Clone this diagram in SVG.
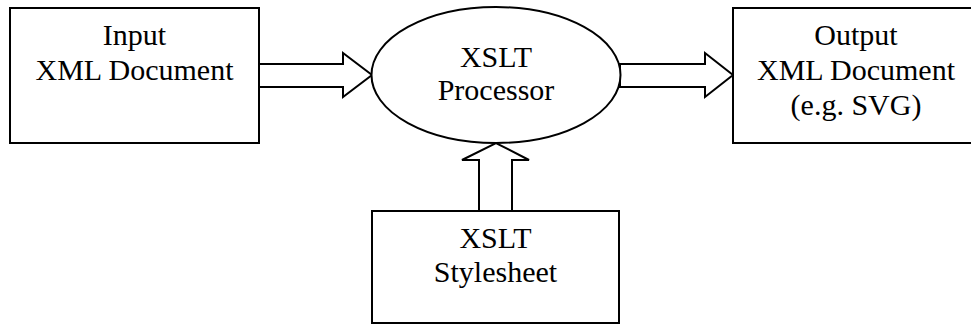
<svg xmlns="http://www.w3.org/2000/svg" width="971" height="325" viewBox="0 0 971 325">
<style>
.s{fill:#fff;stroke:#000;stroke-width:2}
.t{font-family:"Liberation Serif","Times New Roman",serif;font-size:30px;fill:#000;text-anchor:middle}
</style>
<rect width="971" height="325" fill="#fff"/>
<g id="connectors">
<path class="s" d="M259,64 H343 V53 L372,75 L343,97 V87 H259 Z"/>
<path class="s" d="M620,64 H705 V53 L733,75 L705,97 V87 H620 Z"/>
<path class="s" d="M479,211 V160 H462 L496,143 L529,160 H512 V211 Z"/>
</g>
<g id="input">
<rect class="s" x="10" y="8" width="249" height="135"/>
<text class="t" x="134.5" y="45">Input</text>
<text class="t" x="134.5" y="80">XML Document</text>
</g>
<g id="processor">
<ellipse class="s" cx="496" cy="75" rx="124.5" ry="68"/>
<text class="t" x="496" y="67">XSLT</text>
<text class="t" x="496" y="100">Processor</text>
</g>
<g id="output">
<rect class="s" x="733" y="8" width="250" height="135"/>
<text class="t" x="856" y="45">Output</text>
<text class="t" x="856" y="80">XML Document</text>
<text class="t" x="856" y="115">(e.g. SVG)</text>
</g>
<g id="stylesheet">
<rect class="s" x="372" y="211" width="247" height="112"/>
<text class="t" x="495.5" y="248">XSLT</text>
<text class="t" x="495.5" y="282">Stylesheet</text>
</g>
</svg>
